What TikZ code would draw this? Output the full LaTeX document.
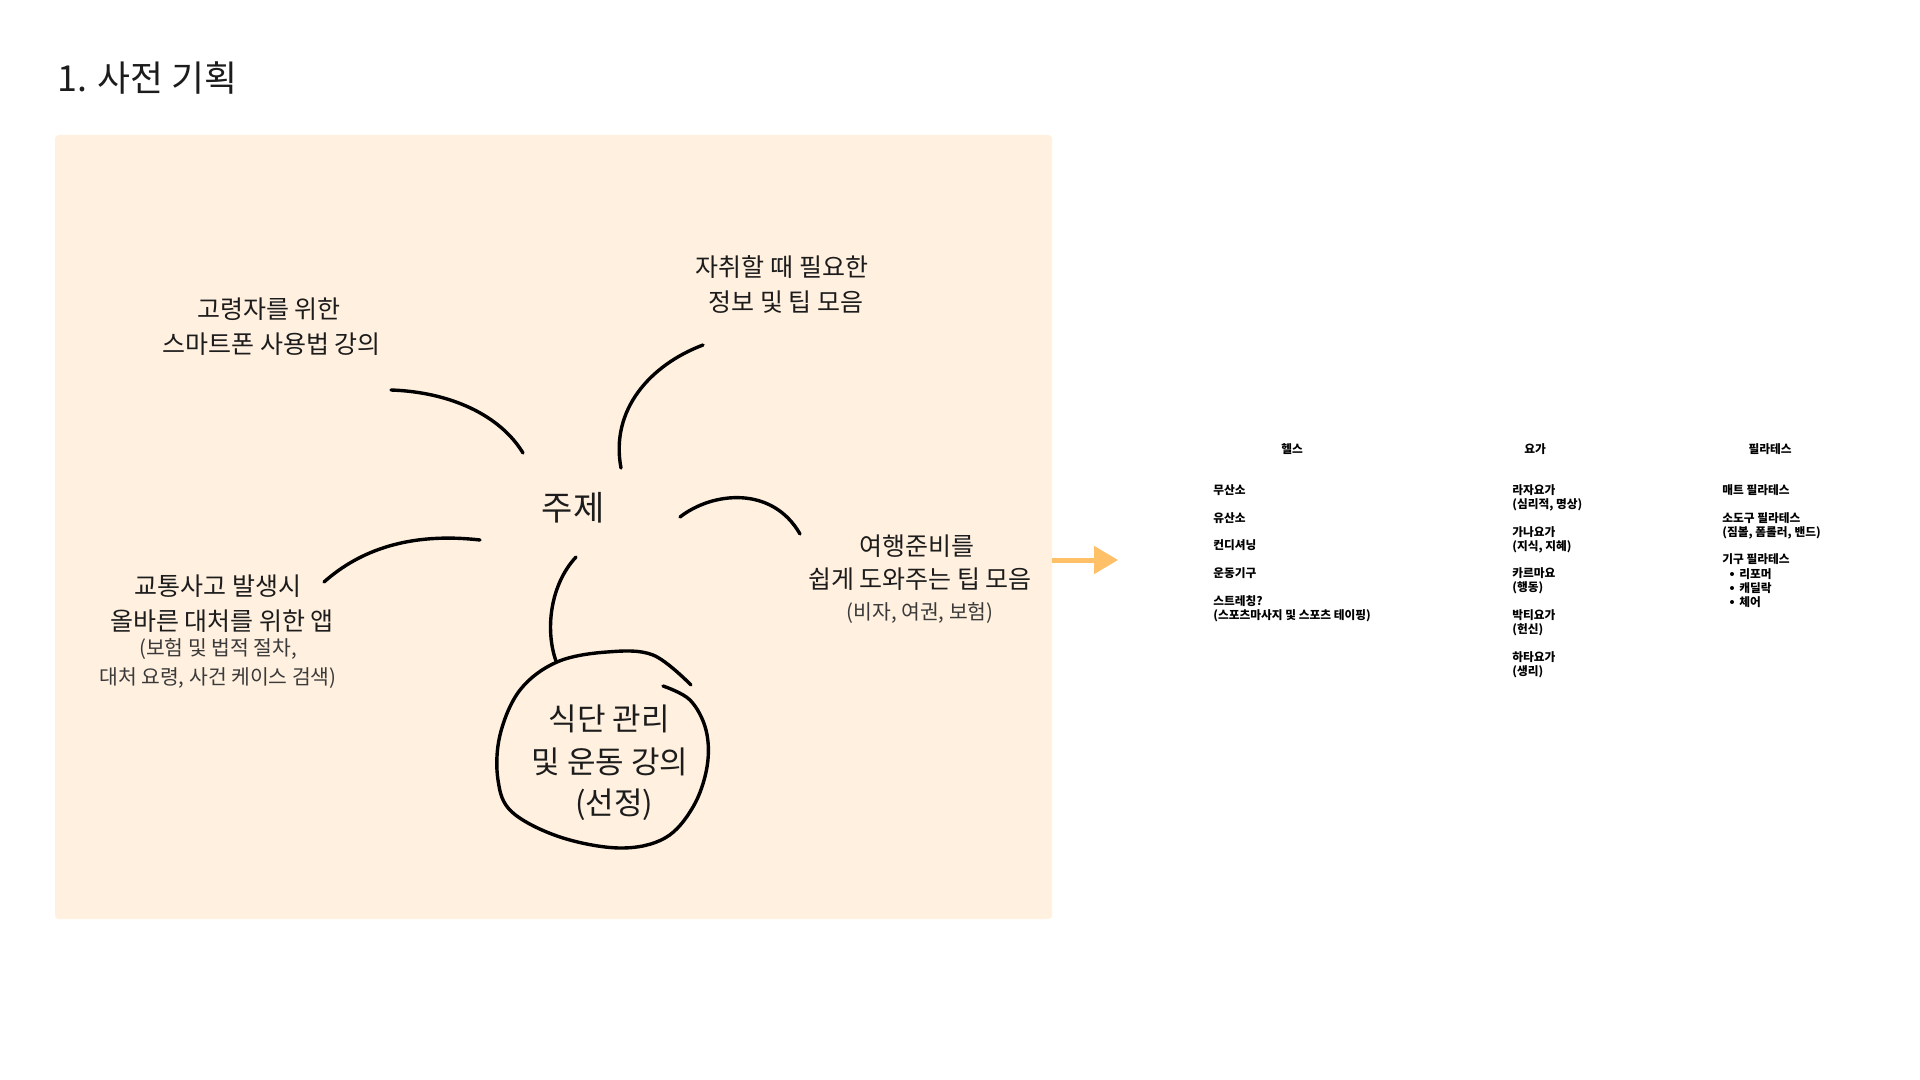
\documentclass[tikz,border=0pt]{standalone}
\usepackage{fontspec}
\setmainfont{Noto Sans CJK KR}
\usetikzlibrary{arrows.meta}
\definecolor{panelbg}{HTML}{FFF0DF}
\definecolor{arrowc}{HTML}{FFC068}
\definecolor{ink}{HTML}{1C1C1C}
\definecolor{subink}{HTML}{3A3A3A}
\begin{document}
\begin{tikzpicture}[x=0.5pt,y=-0.5pt,
  title/.style={font=\fontsize{17.9}{21}\selectfont, text=ink, inner sep=0pt, anchor=base west},
  big/.style={font=\fontsize{12.5}{15}\selectfont, text=ink, inner sep=0pt, anchor=base},
  small/.style={font=\fontsize{10.2}{12}\selectfont, text=subink, inner sep=0pt, anchor=base},
  topic/.style={font=\fontsize{17}{20}\selectfont, text=ink, inner sep=0pt, anchor=base},
  circ/.style={font=\fontsize{15.5}{18}\selectfont, text=ink, inner sep=0pt, anchor=base},
  stroke/.style={line width=1.7pt, black, line cap=round},
  rhead/.style={font=\fontsize{5.85}{7}\selectfont\bfseries, text=black, inner sep=0pt, anchor=base},
  ritem/.style={font=\fontsize{5.85}{7}\selectfont\bfseries, text=black, inner sep=0pt, anchor=base west},
]
\useasboundingbox (0,0) rectangle (1920,1080);
\fill[white] (0,0) rectangle (1920,1080);

% title
\node[title] (title) at (57,92) {1. 사전 기획};

% panel
\node[fill=panelbg, rounded corners=2pt, minimum width=498.5pt, minimum height=392pt, inner sep=0pt] (panel) at (553.5,527) {};

% labels
\node[big] (a1) at (269,319) {고령자를 위한};
\node[big] (a2) at (271.5,354) {스마트폰 사용법 강의};
\node[big] (b1) at (782,277) {자취할 때 필요한};
\node[big] (b2) at (786,312) {정보 및 팁 모음};
\node[topic] (topic) at (573,520) {주제};
\node[big] (c1) at (218,595.5) {교통사고 발생시};
\node[big] (c2) at (222,630.5) {올바른 대처를 위한 앱};
\node[small] (c3) at (218,655) {(보험 및 법적 절차,};
\node[small] (c4) at (218,684.5) {대처 요령, 사건 케이스 검색)};
\node[big] (d1) at (917,555.5) {여행준비를};
\node[big] (d2) at (920,588.5) {쉽게 도와주는 팁 모음};
\node[small] (d3) at (920,619.5) {(비자, 여권, 보험)};
\node[circ] (e1) at (609,730) {식단 관리};
\node[circ] (e2) at (610,773) {및 운동 강의};
\node[circ] (e3) at (614,814) {(선정)};

% strokes
\draw[stroke] (391,390) .. controls (450,392) and (500,415) .. (523,453);
\draw[stroke] (703,345) .. controls (650,365) and (610,410) .. (621,468);
\draw[stroke] (680,517) .. controls (712,492) and (772,485) .. (800,534);
\draw[stroke] (324,582) .. controls (360,550) and (410,532) .. (480,540);
\draw[stroke] (576,557) .. controls (550,585) and (545,630) .. (556,661);
\draw[stroke] plot[smooth, tension=0.6] coordinates {(691,685) (653,655) (607,652) (557,662) (520,690) (500,735) (498,780) (512,812) (560,837) (620,848) (665,838) (693,807) (707,767) (706,730) (690,700) (663,686)};

% arrow
\coordinate (arrowend) at (1118,560);
\draw[arrowc, line width=2.5pt, -{Triangle[length=12pt,width=13.5pt]}] (panel.east |- arrowend) -- (arrowend);

% right columns
\node[rhead] (h1) at (1292,453) {헬스};
\node[ritem] (h1a) at (1213,494) {무산소};
\node[ritem] (h1b) at (1213,522) {유산소};
\node[ritem] (h1c) at (1213,549) {컨디셔닝};
\node[ritem] (h1d) at (1213,577) {운동기구};
\node[ritem] (h1e) at (1213,605) {스트레칭?};
\node[ritem] (h1f) at (1213,619) {(스포츠마사지 및 스포츠 테이핑)};

\node[rhead] (h2) at (1535,453) {요가};
\node[ritem] (h2a) at (1512,494) {라자요가};
\node[ritem] (h2b) at (1512,508) {(심리적, 명상)};
\node[ritem] (h2c) at (1512,536) {가나요가};
\node[ritem] (h2d) at (1512,550) {(지식, 지혜)};
\node[ritem] (h2e) at (1512,577) {카르마요};
\node[ritem] (h2f) at (1512,591) {(행동)};
\node[ritem] (h2g) at (1512,619) {박티요가};
\node[ritem] (h2h) at (1512,633) {(헌신)};
\node[ritem] (h2i) at (1512,661) {하타요가};
\node[ritem] (h2j) at (1512,675) {(생리)};

\node[rhead] (h3) at (1770,453) {필라테스};
\node[ritem] (h3a) at (1722,494) {매트 필라테스};
\node[ritem] (h3b) at (1722,522) {소도구 필라테스};
\node[ritem] (h3c) at (1722,536) {(짐볼, 폼롤러, 밴드)};
\node[ritem] (h3d) at (1722,563.5) {기구 필라테스};
\node[ritem] (h3e) at (1739,578) {리포머};
\node[ritem] (h3f) at (1739,592) {캐딜락};
\node[ritem] (h3g) at (1739,606) {체어};
\fill (1732,574) circle[radius=2];
\fill (1732,588) circle[radius=2];
\fill (1732,602) circle[radius=2];
\end{tikzpicture}
\end{document}
